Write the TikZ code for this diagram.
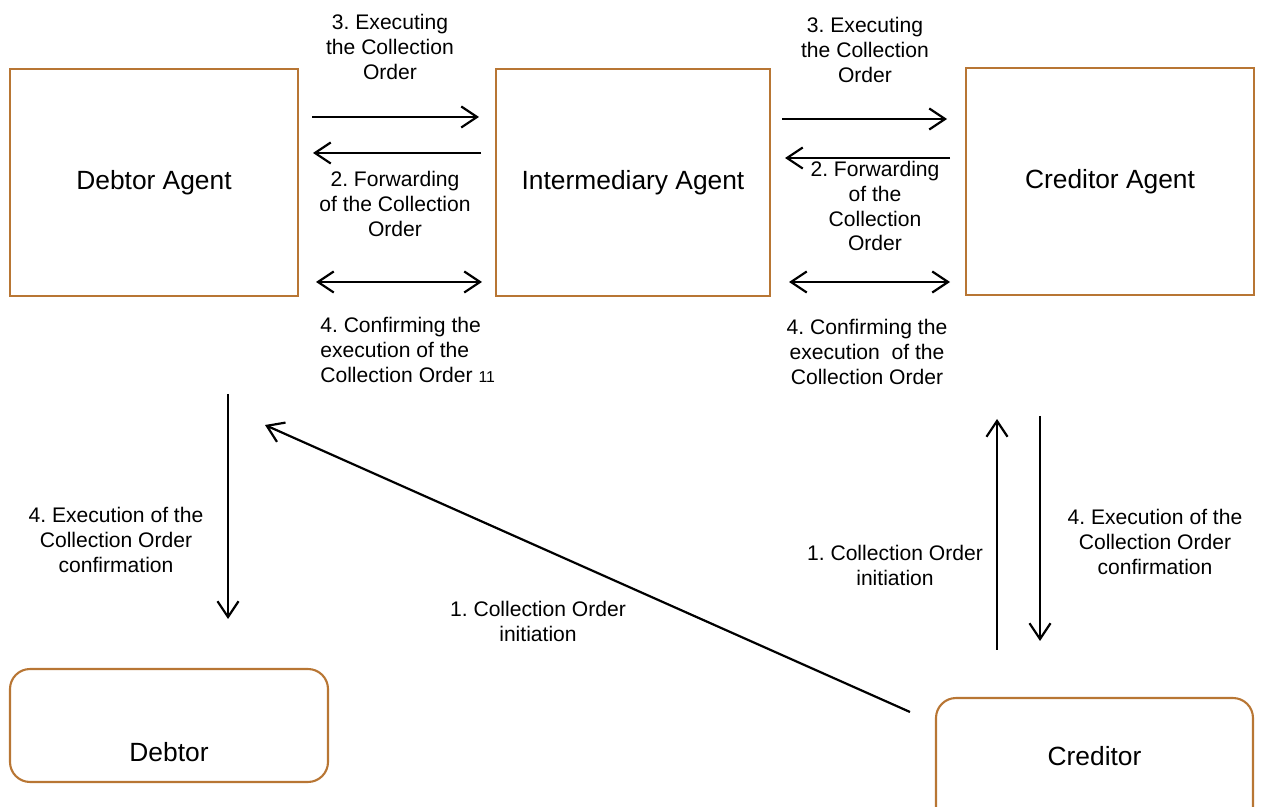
\documentclass[tikz,border=0pt]{standalone}
\usepackage{fontspec}
\setmainfont{Liberation Sans}
\usetikzlibrary{arrows.meta}
\definecolor{boxbrown}{RGB}{184,118,52}
\frenchspacing

\begin{document}
\begin{tikzpicture}[x=0.02cm,y=-0.02cm,
    agent/.style={draw=boxbrown,line width=1.2pt,minimum width=#1*0.02cm,minimum height=4.54cm,font=\fontsize{15}{18}\selectfont},
    party/.style={agent=#1,rounded corners=0.4cm},
    msg/.style={align=center,font=\fontsize{12}{14.2}\selectfont,inner sep=0pt},
    flow/.style={line width=1.25pt,-{Straight Barb[length=9pt,width=12pt]}},
    both/.style={line width=1.25pt,{Straight Barb[length=9pt,width=12pt]}-{Straight Barb[length=9pt,width=12pt]}}]
  \useasboundingbox (0,0) rectangle (1262,807);
  \clip (0,0) rectangle (1262,807);

  % agents
  \node[agent=288] (dagent) at (154,182.5) {Debtor Agent};
  \node[agent=274] (iagent) at (633,182.5) {Intermediary Agent};
  \node[agent=288] (cagent) at (1110,181.5) {Creditor Agent};

  % parties
  \node[party=318,minimum height=2.26cm] (debtor) at (169,725.5) {};
  \node[font=\fontsize{15}{18}\selectfont] (debtortxt) at (169,752) {Debtor};
  \node[party=317,minimum height=2.8cm] (creditor) at (1094.5,768) {};
  \node[font=\fontsize{15}{18}\selectfont] (creditortxt) at (1094.5,756) {Creditor};

  % end points of the connectors
  \coordinate (le1) at (312,117);  \coordinate (le2) at (479,117);
  \coordinate (lf1) at (481,153);  \coordinate (lf2) at (313,153);
  \coordinate (lc1) at (316,282);  \coordinate (lc2) at (482,282);
  \coordinate (re1) at (782,119);  \coordinate (re2) at (947,119);
  \coordinate (rf1) at (950,158);  \coordinate (rf2) at (785,158);
  \coordinate (rc1) at (789,282);  \coordinate (rc2) at (950,282);
  \coordinate (dv1) at (228,394);  \coordinate (dv2) at (228,619);
  \coordinate (cd1) at (910,712);  \coordinate (cd2) at (265,425);
  \coordinate (cu1) at (997,650);  \coordinate (cu2) at (997,419);
  \coordinate (cv1) at (1040,416); \coordinate (cv2) at (1040,641);

  \draw[flow] (le1) -- (le2);
  \draw[flow] (lf1) -- (lf2);
  \draw[both] (lc1) -- (lc2);
  \draw[flow] (re1) -- (re2);
  \draw[flow] (rf1) -- (rf2);
  \draw[both] (rc1) -- (rc2);
  \draw[flow] (dv1) -- (dv2);
  \draw[flow] (cd1) -- (cd2);
  \draw[flow] (cu1) -- (cu2);
  \draw[flow] (cv1) -- (cv2);

  % labels
  \node[msg] (lexec) at (390,47) {3. Executing\\the Collection\\Order};
  \node[msg] (lfwd) at (395,204) {2. Forwarding\\of the Collection\\Order};
  \node[msg,align=left,anchor=west] (lconf) at (320,350)
    {4. Confirming the\\execution of the\\Collection Order {\fontsize{9}{10}\selectfont 11}};
  \node[msg] (rexec) at (865,50) {3. Executing\\the Collection\\Order};
  \node[msg] (rfwd) at (875,206) {2. Forwarding\\of the\\Collection\\Order};
  \node[msg] (rconf) at (867,352) {4. Confirming the\\execution\ \ of the\\Collection Order};
  \node[msg] (dexec) at (116,540) {4. Execution of the\\Collection Order\\confirmation};
  \node[msg] (dinit) at (538,621) {1. Collection Order\\initiation};
  \node[msg] (cinit) at (895,565) {1. Collection Order\\initiation};
  \node[msg] (cexec) at (1155,542) {4. Execution of the\\Collection Order\\confirmation};
\end{tikzpicture}
\end{document}
